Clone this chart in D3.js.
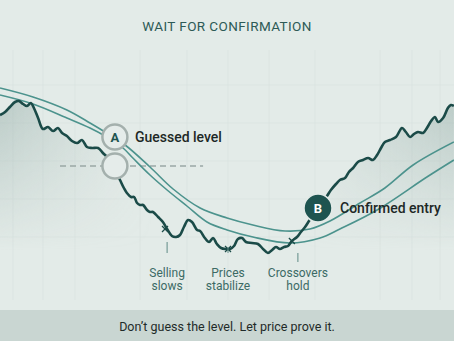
<!DOCTYPE html>
<html>
<head>
<meta charset="utf-8">
<script src="https://cdn.jsdelivr.net/npm/d3@7"></script>
<style>
  html, body { margin: 0; padding: 0; background: #e3ebe8; }
  svg { display: block; font-family: Roboto, "Noto Sans", sans-serif; }
</style>
</head>
<body>
<div id="chart"></div>
<script>
// price path (day, price)
const priceDays = [0, 1.7, 3.3, 5, 6.3, 7.7, 9, 10.3, 11.3, 12.7, 14.3, 16, 17.7, 19.3, 20.7, 22.3, 24, 25.7, 27.3, 29,
  30.7, 32.7, 34.3, 36, 37.7, 40, 41.3, 42.3, 43.7, 44.7, 45.7, 46.7, 47.7, 49, 50, 51, 52.7, 54.3, 55.7, 57.3,
  58.7, 60, 61.3, 62.7, 64, 65.7, 66.7, 68.3, 69.7, 71, 72.3, 73.7, 75.3, 76.7, 78, 79.3, 80.7, 82, 84, 86,
  87.7, 89.3, 90.7, 92, 93.3, 94.7, 96, 97.3, 99, 100.3, 101.7, 103, 104.3, 106, 107.7, 109, 110.3, 112, 113.3, 115,
  116.3, 117.7, 119.3, 121, 122.7, 124.3, 125.7, 127, 128.3, 130, 132, 134, 135.3, 136.7, 138, 139.3, 141, 142.3, 143.7, 145,
  146, 147.7, 149.3, 150.3, 151.3];
const priceValues = [92.5, 94, 96.5, 99, 99.5, 98, 97, 98.5, 96, 91, 85.5, 86.5, 84.5, 86, 83.5, 82, 79.5, 78.5, 80, 76.5,
  76, 76, 73.5, 71, 67, 60, 56, 53.5, 51.5, 51.5, 48.5, 47.5, 47.5, 45, 44, 44, 41.5, 39, 35.5, 32,
  31.5, 32.5, 36.5, 40, 39, 35, 34.5, 31, 29, 31, 28, 26, 25.5, 25.5, 27, 30.5, 31, 29, 28.5, 28,
  25.5, 23.5, 25, 26.5, 25.5, 26.5, 27, 29.5, 31.5, 34, 36.5, 39.5, 42.5, 46, 49.5, 52, 55, 58, 60, 61,
  64, 66, 69, 70, 71, 70, 72.5, 76, 79, 80, 81.5, 86, 84, 81.5, 83, 84, 83.5, 86, 89.5, 91.5,
  89, 91, 96, 97.5, 97];

// the two moving averages
const fastDays = [0, 11, 22.3, 30, 35, 41.7, 50, 57.7, 66.7, 75.7, 84.3, 95, 103.3, 110, 120, 128.3, 137.7, 151.3];
const fastValues = [106, 101.5, 95, 88.5, 84, 77.5, 66.5, 55.5, 46, 41, 37.5, 34.5, 35.5, 39.5, 48.5, 56, 67.5, 79];
const slowDays = [0, 11, 22.3, 30, 35, 41, 44.3, 50, 55.7, 62.3, 69, 75.7, 84.3, 96.7, 106.7, 113.3, 125.7, 142.3, 151.3];
const slowValues = [102.5, 98, 91, 86, 82, 76, 71, 62.5, 55, 47, 39, 35, 31.5, 28.5, 31, 35.5, 45, 61.5, 70];

// guessed level (dashed) and the two callouts
const guessLevel = 67;
const guessSpan = [20, 67.7];
const callouts = [
  { key: 'A', day: 38.3, value: 81.5, label: 'Guessed level', dark: false },
  { key: '', day: 38.3, value: 67, label: '', dark: false },
  { key: 'B', day: 106, value: 46, label: 'Confirmed entry', dark: true }
];

// small cross marks and the notes under them
const markDays = [55, 76, 97.3];
const noteDays = [55.7, 76, 99.3];
const noteLines = [['Selling', 'slows'], ['Prices', 'stabilize'], ['Crossovers', 'hold']];

// faint background grid
const gridDays = [4.3, 14.3, 25, 46.7, 62.3, 76, 89.7, 105, 126.7, 137.3, 146.7];
const gridValues = [107.5, 88.5, 69.5, 50.5, 31.5];

const width = 454, height = 341;

const x = d3.scaleLinear().domain([0, 151]).range([0, 453]);
const y = d3.scaleLinear().domain([0, 150]).range([300, 0]);

const svg = d3.select('#chart')
  .append('svg')
  .attr('width', width)
  .attr('height', height);

svg.append('rect')
  .attr('width', width)
  .attr('height', height)
  .attr('fill', '#e3ebe8');

const defs = svg.append('defs');

// horizontal fade: shading at both ends, clear in the middle
const hGrad = defs.append('linearGradient').attr('id', 'hfade');
[[0, 0.6], [0.24, 0.12], [0.34, 0], [0.64, 0], [0.8, 0.3], [1, 0.6]].forEach(([o, a]) => {
  hGrad.append('stop').attr('offset', o).attr('stop-color', '#9fb5b0').attr('stop-opacity', a);
});

const vGrad = defs.append('linearGradient').attr('id', 'vfade')
  .attr('gradientUnits', 'userSpaceOnUse')
  .attr('x1', 0).attr('x2', 0).attr('y1', 95).attr('y2', 250);
vGrad.append('stop').attr('offset', 0).attr('stop-color', '#fff').attr('stop-opacity', 1);
vGrad.append('stop').attr('offset', 1).attr('stop-color', '#fff').attr('stop-opacity', 0);

defs.append('mask').attr('id', 'vmask')
  .append('rect')
  .attr('width', width).attr('height', height)
  .attr('fill', 'url(#vfade)');

// grid
const grid = svg.append('g').attr('stroke', '#d9e3e0').attr('stroke-width', 0.7);
grid.selectAll('line.v')
  .data(gridDays)
  .join('line')
  .attr('class', 'v')
  .attr('x1', d => x(d)).attr('x2', d => x(d))
  .attr('y1', 50).attr('y2', 300);
grid.selectAll('line.h')
  .data(gridValues)
  .join('line')
  .attr('class', 'h')
  .attr('x1', 0).attr('x2', width)
  .attr('y1', d => y(d)).attr('y2', d => y(d));

const price = priceDays.map((d, i) => ({ day: d, value: priceValues[i] }));
const fast = fastDays.map((d, i) => ({ day: d, value: fastValues[i] }));
const slow = slowDays.map((d, i) => ({ day: d, value: slowValues[i] }));

// shaded area under price
const area = d3.area()
  .x(d => x(d.day))
  .y0(y(0))
  .y1(d => y(d.value))
  .curve(d3.curveCatmullRom.alpha(0.5));

svg.append('path')
  .datum(price)
  .attr('d', area)
  .attr('fill', 'url(#hfade)')
  .attr('mask', 'url(#vmask)');

// title
svg.append('text')
  .attr('x', width / 2)
  .attr('y', 31)
  .attr('text-anchor', 'middle')
  .attr('font-size', 13.5)
  .attr('letter-spacing', 0.4)
  .attr('fill', '#2d5a56')
  .text('WAIT FOR CONFIRMATION');

// dashed guessed level
svg.append('line')
  .attr('x1', x(guessSpan[0])).attr('x2', x(guessSpan[1]))
  .attr('y1', y(guessLevel)).attr('y2', y(guessLevel))
  .attr('stroke', '#9aa8a5')
  .attr('stroke-width', 1.5)
  .attr('stroke-dasharray', '6,4');

const line = d3.line()
  .x(d => x(d.day))
  .y(d => y(d.value))
  .curve(d3.curveCatmullRom.alpha(0.5));

svg.append('path')
  .datum(fast)
  .attr('d', line)
  .attr('fill', 'none')
  .attr('stroke', '#4c938d')
  .attr('stroke-width', 1.6);

svg.append('path')
  .datum(slow)
  .attr('d', line)
  .attr('fill', 'none')
  .attr('stroke', '#4c938d')
  .attr('stroke-width', 1.6);

svg.append('path')
  .datum(price)
  .attr('d', line)
  .attr('fill', 'none')
  .attr('stroke', '#1b4b48')
  .attr('stroke-width', 2.6)
  .attr('stroke-linejoin', 'round');

// cross marks on the price
const marks = svg.append('g').attr('stroke', '#1b4b48').attr('stroke-width', 1.3);
markDays.forEach(d => {
  const i = d3.bisector(p => p.day).center(price, d);
  const cx = x(d), cy = y(price[i].value);
  marks.append('line').attr('x1', cx - 3).attr('x2', cx + 3).attr('y1', cy - 3).attr('y2', cy + 3);
  marks.append('line').attr('x1', cx - 3).attr('x2', cx + 3).attr('y1', cy + 3).attr('y2', cy - 3);
});

// notes with tick lines
const notes = svg.append('g');
noteDays.forEach((d, i) => {
  const tickTop = [242, 247, 253][i];
  const tickBottom = [253, 253, 262][i];
  notes.append('line')
    .attr('x1', x(d)).attr('x2', x(d))
    .attr('y1', tickTop).attr('y2', tickBottom)
    .attr('stroke', '#5f8a85')
    .attr('stroke-width', 1);
  noteLines[i].forEach((t, j) => {
    notes.append('text')
      .attr('x', x(d))
      .attr('y', 277 + j * 12.5)
      .attr('text-anchor', 'middle')
      .attr('font-size', 12)
      .attr('fill', '#3c6a65')
      .text(t);
  });
});

// callout circles
const call = svg.append('g')
  .selectAll('g')
  .data(callouts)
  .join('g')
  .attr('transform', d => `translate(${x(d.day)},${y(d.value)})`);

call.append('circle')
  .attr('r', d => d.dark ? 14 : 12.5)
  .attr('fill', d => d.dark ? '#1e5450' : '#e5ecea')
  .attr('stroke', d => d.dark ? '#e3ebe8' : '#a4b0ad')
  .attr('stroke-width', d => d.dark ? 1.5 : 2.5);

call.append('text')
  .attr('text-anchor', 'middle')
  .attr('dy', '0.36em')
  .attr('font-size', 13)
  .attr('font-weight', 700)
  .attr('fill', d => d.dark ? '#ffffff' : '#1e5450')
  .text(d => d.key);

call.append('text')
  .attr('x', d => d.dark ? 22 : 20)
  .attr('dy', '0.36em')
  .attr('font-size', 14)
  .attr('font-weight', 500)
  .attr('fill', '#1d2826')
  .text(d => d.label);

// footer band
svg.append('rect')
  .attr('x', 0).attr('y', 310)
  .attr('width', width).attr('height', height - 310)
  .attr('fill', '#c9d6d2');

svg.append('text')
  .attr('x', width / 2)
  .attr('y', 331)
  .attr('text-anchor', 'middle')
  .attr('font-size', 12.5)
  .attr('fill', '#1f2b29')
  .text('Don’t guess the level. Let price prove it.');
</script>
</body>
</html>
